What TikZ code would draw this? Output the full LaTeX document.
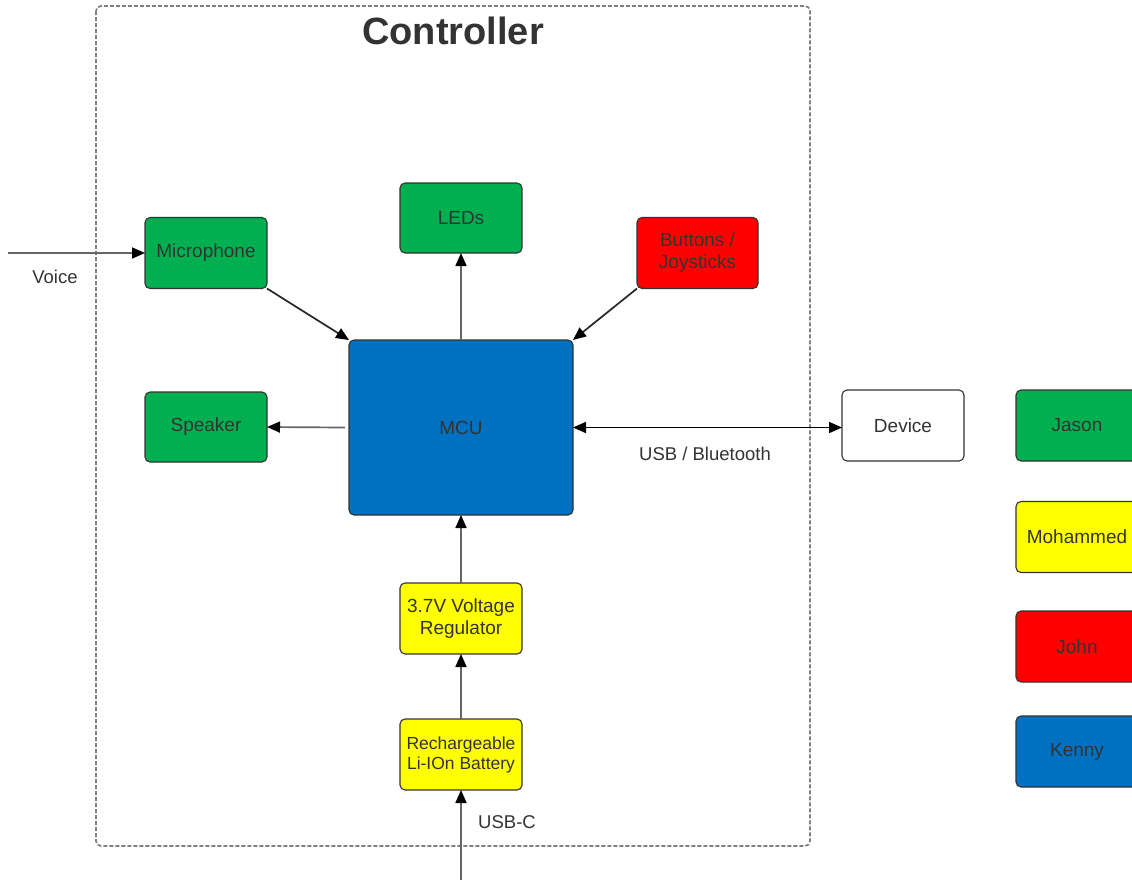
\documentclass[tikz,border=0pt]{standalone}
\usepackage{fontspec}
\setmainfont{Liberation Sans}
\usetikzlibrary{arrows.meta}
\definecolor{boxgreen}{HTML}{00B050}
\definecolor{boxyellow}{HTML}{FFFF00}
\definecolor{boxred}{HTML}{FF0000}
\definecolor{boxblue}{HTML}{0070C0}
\definecolor{inktext}{HTML}{333333}
\definecolor{framegray}{HTML}{7F7F7F}
\begin{document}
\begin{tikzpicture}[x=1pt,y=-1pt,
  blk/.style={draw=black!80, line width=1.1pt, rounded corners=5pt,
    minimum width=122pt, minimum height=71pt, inner sep=0pt, outer sep=0pt,
    text=inktext, font=\fontsize{19}{22}\selectfont, align=center},
  lbl/.style={text=inktext, font=\fontsize{18.5}{22}\selectfont, inner sep=0pt},
  link/.style={draw=black!60, line width=1.7pt,
    -{Triangle[length=13pt,width=11pt,color=black]}},
  dlink/.style={draw=black, line width=1.7pt,
    {Triangle[length=13pt,width=11pt]}-{Triangle[length=13pt,width=11pt]}}]
\useasboundingbox (0,0) rectangle (1132,879);
\fill[white] (0,0) rectangle (1132,879);

% controller enclosure
\draw[framegray, line width=1.7pt, dash pattern=on 4pt off 2pt, rounded corners=5pt]
  (96,6) rectangle (810,846);
\node[font=\fontsize{38}{44}\selectfont\bfseries, text=inktext] (title) at (453,31) {Controller};

% blocks
\node[blk, fill=boxgreen] (mic) at (206,253) {Microphone};
\node[blk, fill=boxgreen, minimum height=70pt] (leds) at (461,218) {LEDs};
\node[blk, fill=boxred, minimum width=121pt] (btn) at (697.5,253) {Buttons /\\Joysticks};
\node[blk, fill=boxblue, minimum width=224pt, minimum height=175pt] (mcu) at (461,427.5) {MCU};
\node[blk, fill=boxgreen, minimum height=70pt] (spk) at (206,427) {Speaker};
\node[blk, fill=white] (dev) at (903,425.5) {Device};
\node[blk, fill=boxyellow] (reg) at (461,618.5) {3.7V Voltage\\Regulator};
\node[blk, fill=boxyellow, font=\fontsize{17.5}{20}\selectfont] (bat) at (461,754.5) {Rechargeable\\Li-IOn Battery};

% team legend
\node[blk, fill=boxgreen] (jason) at (1077,425.5) {Jason};
\node[blk, fill=boxyellow] (moh) at (1077,537) {Mohammed};
\node[blk, fill=boxred] (john) at (1077,646.5) {John};
\node[blk, fill=boxblue] (kenny) at (1077,751.5) {Kenny};

% external ends
\coordinate (voicein) at (8,253);
\coordinate (usbin) at (461,895);

% connectors
\draw[link] (voicein) -- (mic.west);
\node[lbl] (voice) at (55,277) {Voice};
\draw[link, draw=black!85] (mic.south east) -- (mcu.north west);
\draw[link] (mcu.north) -- (leds.south);
\draw[link, draw=black!85] (btn.south west) -- (mcu.north east);
\draw[link] ([xshift=-4pt]mcu.west) -- (spk.east);
\draw[dlink] (mcu.east) -- (mcu.east -| dev.west);
\node[lbl] (usbbt) at (705,454) {USB / Bluetooth};
\draw[link] (reg.north) -- (mcu.south);
\draw[link] (bat.north) -- (reg.south);
\draw[link] (usbin) -- (bat.south);
\node[lbl] (usbc) at (507,822) {USB-C};
\end{tikzpicture}
\end{document}
